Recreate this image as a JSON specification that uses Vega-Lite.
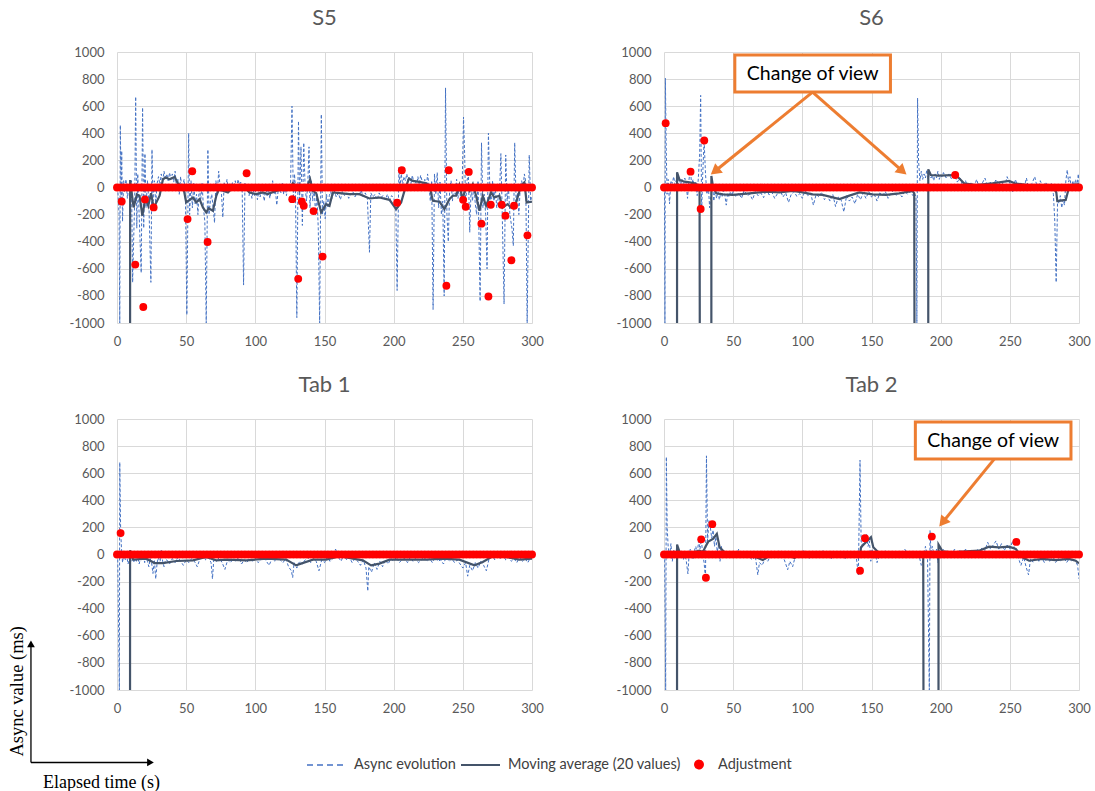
{
"$schema": "https://vega.github.io/schema/vega-lite/v6.json",
"background": "white",
"padding": {"left": 7, "top": 7, "right": 0, "bottom": 0},
"columns": 2,
"spacing": {"row": 26, "column": 72},
"datasets": {
"s5_async": [{"t":0.5,"v":0},{"t":1.5,"v":-200},{"t":2,"v":-1000},{"t":2.4,"v":460},{"t":3,"v":-100},{"t":3.4,"v":270},{"t":4,"v":-250},{"t":4.8,"v":50},{"t":5.5,"v":-30},{"t":6.5,"v":60},{"t":7.5,"v":-80},{"t":8.5,"v":20},{"t":9.5,"v":-150},{"t":10.5,"v":50},{"t":11.3,"v":-700},{"t":12,"v":-400},{"t":12.8,"v":-100},{"t":13.5,"v":670},{"t":14.3,"v":-300},{"t":15,"v":100},{"t":16,"v":-200},{"t":17.5,"v":-630},{"t":18.5,"v":590},{"t":19.3,"v":-300},{"t":20.2,"v":250},{"t":21,"v":-150},{"t":22,"v":50},{"t":23,"v":-100},{"t":24.5,"v":-700},{"t":25.3,"v":280},{"t":26,"v":-100},{"t":27,"v":50},{"t":28,"v":-120},{"t":29,"v":30},{"t":30,"v":80},{"t":31,"v":20},{"t":32,"v":100},{"t":33,"v":40},{"t":34,"v":120},{"t":35,"v":60},{"t":36,"v":100},{"t":37,"v":50},{"t":38,"v":110},{"t":39,"v":60},{"t":40,"v":100},{"t":41,"v":40},{"t":42,"v":120},{"t":43,"v":0},{"t":44,"v":60},{"t":45,"v":-50},{"t":46,"v":80},{"t":47,"v":-20},{"t":48.5,"v":60},{"t":49.5,"v":-100},{"t":50.5,"v":-940},{"t":51.8,"v":400},{"t":52.5,"v":-200},{"t":53.5,"v":50},{"t":54.5,"v":-150},{"t":55.5,"v":30},{"t":56.5,"v":-120},{"t":57.5,"v":-50},{"t":58.5,"v":-200},{"t":59.5,"v":20},{"t":60.5,"v":-100},{"t":61.5,"v":30},{"t":62.5,"v":-150},{"t":63.5,"v":-250},{"t":64.5,"v":-1000},{"t":65.7,"v":280},{"t":66.5,"v":-200},{"t":67.5,"v":-100},{"t":68.5,"v":-50},{"t":69.5,"v":-150},{"t":70.5,"v":-260},{"t":71.5,"v":50},{"t":72.5,"v":-50},{"t":73.5,"v":120},{"t":74.5,"v":10},{"t":75.5,"v":-40},{"t":76.5,"v":-220},{"t":77.5,"v":40},{"t":78.5,"v":-20},{"t":79.5,"v":60},{"t":80.5,"v":-30},{"t":81.5,"v":30},{"t":82.5,"v":-20},{"t":83.5,"v":40},{"t":84.5,"v":0},{"t":85.5,"v":50},{"t":86.5,"v":-10},{"t":87.5,"v":60},{"t":88.5,"v":20},{"t":89.5,"v":40},{"t":90.5,"v":-20},{"t":91.5,"v":-720},{"t":92.5,"v":30},{"t":93.5,"v":-20},{"t":94.5,"v":20},{"t":95.5,"v":-60},{"t":96.5,"v":10},{"t":97.5,"v":-80},{"t":98.5,"v":-20},{"t":99.5,"v":-60},{"t":100.5,"v":0},{"t":101.5,"v":-90},{"t":102.5,"v":-30},{"t":103.5,"v":-70},{"t":104.5,"v":20},{"t":105.5,"v":-40},{"t":106.5,"v":-100},{"t":107.5,"v":20},{"t":108.5,"v":-60},{"t":109.5,"v":-10},{"t":110.5,"v":-80},{"t":111.5,"v":-20},{"t":112.5,"v":50},{"t":113.5,"v":-50},{"t":114.5,"v":-20},{"t":115.5,"v":-130},{"t":116.5,"v":-20},{"t":117.5,"v":20},{"t":118.5,"v":-40},{"t":119.5,"v":30},{"t":120.5,"v":-50},{"t":121.5,"v":10},{"t":122.5,"v":-60},{"t":123.5,"v":20},{"t":124.5,"v":-20},{"t":125.5,"v":40},{"t":126.5,"v":600},{"t":127.5,"v":-100},{"t":128.3,"v":100},{"t":129,"v":0},{"t":130,"v":-960},{"t":131.2,"v":490},{"t":132,"v":-100},{"t":133,"v":300},{"t":134,"v":-280},{"t":135,"v":330},{"t":136,"v":0},{"t":137,"v":-100},{"t":138,"v":50},{"t":138.8,"v":300},{"t":139.5,"v":-150},{"t":140.5,"v":50},{"t":141.5,"v":-100},{"t":142.5,"v":20},{"t":143.5,"v":-200},{"t":144.5,"v":-50},{"t":145.5,"v":-300},{"t":146.5,"v":-1000},{"t":147.7,"v":540},{"t":148.5,"v":-200},{"t":149.5,"v":-100},{"t":150.5,"v":-230},{"t":151.5,"v":-50},{"t":152.5,"v":-150},{"t":153.5,"v":-60},{"t":154.5,"v":-30},{"t":155.5,"v":-80},{"t":157,"v":-20},{"t":158.5,"v":-70},{"t":160,"v":-40},{"t":161.5,"v":-90},{"t":163,"v":-30},{"t":164.5,"v":-60},{"t":166,"v":-40},{"t":167.5,"v":-80},{"t":169,"v":-50},{"t":170.5,"v":-30},{"t":172,"v":-70},{"t":173.5,"v":-40},{"t":175,"v":-60},{"t":176.5,"v":-20},{"t":178,"v":-70},{"t":179.5,"v":-40},{"t":181,"v":-80},{"t":182.5,"v":-478},{"t":183.5,"v":-40},{"t":185,"v":-70},{"t":186.5,"v":-50},{"t":188,"v":-90},{"t":189.5,"v":-40},{"t":191,"v":-70},{"t":192.5,"v":-60},{"t":194,"v":-90},{"t":195.5,"v":-50},{"t":197,"v":-100},{"t":198.5,"v":-60},{"t":200,"v":-80},{"t":201.5,"v":-130},{"t":202.5,"v":-760},{"t":203.8,"v":150},{"t":204.5,"v":0},{"t":205.5,"v":100},{"t":206.5,"v":20},{"t":207.5,"v":80},{"t":208.5,"v":50},{"t":209.5,"v":100},{"t":210.5,"v":40},{"t":211.5,"v":80},{"t":212.5,"v":30},{"t":213.5,"v":90},{"t":214.5,"v":40},{"t":215.5,"v":60},{"t":216.5,"v":10},{"t":217.5,"v":80},{"t":218.5,"v":20},{"t":219.5,"v":90},{"t":220.5,"v":50},{"t":221.5,"v":10},{"t":222.5,"v":60},{"t":223.5,"v":-30},{"t":224.5,"v":100},{"t":225.5,"v":20},{"t":226.5,"v":-100},{"t":227.5,"v":50},{"t":228.5,"v":-900},{"t":229.5,"v":100},{"t":230.5,"v":-50},{"t":231.5,"v":110},{"t":232.5,"v":-150},{"t":233.5,"v":40},{"t":234.5,"v":-200},{"t":235.5,"v":-100},{"t":236.5,"v":-800},{"t":237.5,"v":735},{"t":238.5,"v":-200},{"t":239.5,"v":-400},{"t":240.5,"v":0},{"t":241.5,"v":50},{"t":242.5,"v":-100},{"t":243.5,"v":20},{"t":244.5,"v":-50},{"t":245.5,"v":60},{"t":246.5,"v":-80},{"t":247.5,"v":30},{"t":248.5,"v":-100},{"t":249.5,"v":0},{"t":250.5,"v":520},{"t":251.3,"v":250},{"t":252,"v":-150},{"t":253,"v":50},{"t":254,"v":100},{"t":255,"v":-330},{"t":256,"v":0},{"t":257,"v":-100},{"t":258,"v":20},{"t":259,"v":-120},{"t":260,"v":-200},{"t":261,"v":50},{"t":262.5,"v":-840},{"t":263.5,"v":330},{"t":264.5,"v":-150},{"t":265.5,"v":-50},{"t":266.5,"v":-200},{"t":267.5,"v":-600},{"t":268.5,"v":400},{"t":269.5,"v":0},{"t":270.5,"v":-150},{"t":271.5,"v":50},{"t":272.5,"v":-100},{"t":273.5,"v":0},{"t":274.5,"v":-150},{"t":275.5,"v":-80},{"t":276.5,"v":-50},{"t":277.5,"v":250},{"t":278.5,"v":-200},{"t":279.8,"v":-860},{"t":281,"v":240},{"t":282,"v":-100},{"t":283,"v":0},{"t":284,"v":-200},{"t":285.5,"v":-300},{"t":286.5,"v":-430},{"t":287.5,"v":330},{"t":288.5,"v":-100},{"t":289.5,"v":-40},{"t":290.5,"v":-200},{"t":291.5,"v":0},{"t":292.5,"v":50},{"t":293.5,"v":0},{"t":294.5,"v":100},{"t":295.5,"v":40},{"t":296.5,"v":-1000},{"t":298,"v":240},{"t":299,"v":-100},{"t":300,"v":-60}],
"s5_ma": [{"t":9.4,"v":-3000},{"t":9.5,"v":55},{"t":12,"v":-147},{"t":14.4,"v":-51},{"t":16.3,"v":-60},{"t":18.3,"v":-208},{"t":20.7,"v":-74},{"t":22.6,"v":-135},{"t":24.6,"v":-42},{"t":26.5,"v":-147},{"t":28.4,"v":-110},{"t":30.8,"v":-60},{"t":33.2,"v":61},{"t":35.2,"v":74},{"t":38,"v":61},{"t":41.7,"v":78},{"t":44,"v":32},{"t":48.2,"v":-12},{"t":50,"v":-110},{"t":52.5,"v":-91},{"t":54.9,"v":-74},{"t":57.3,"v":-110},{"t":59.7,"v":-86},{"t":62.1,"v":-147},{"t":64.5,"v":-184},{"t":66.2,"v":-154},{"t":69.3,"v":-172},{"t":71.8,"v":-61},{"t":74.2,"v":0},{"t":76.6,"v":-25},{"t":80.2,"v":-37},{"t":83.8,"v":0},{"t":88.6,"v":12},{"t":92.2,"v":0},{"t":95.8,"v":-37},{"t":100.6,"v":-49},{"t":105.5,"v":-37},{"t":109,"v":-49},{"t":115,"v":-25},{"t":120,"v":-12},{"t":124.7,"v":-12},{"t":127.1,"v":32},{"t":129.5,"v":12},{"t":131.9,"v":-25},{"t":134.4,"v":12},{"t":136.8,"v":-12},{"t":139.6,"v":61},{"t":141.6,"v":-25},{"t":144,"v":-42},{"t":147.6,"v":-184},{"t":151.2,"v":-123},{"t":153.6,"v":-135},{"t":156,"v":-37},{"t":160.8,"v":-42},{"t":168,"v":-49},{"t":175.3,"v":-49},{"t":182.5,"v":-81},{"t":189.7,"v":-74},{"t":197,"v":-91},{"t":201.8,"v":-159},{"t":205.4,"v":-110},{"t":207.8,"v":-25},{"t":211,"v":66},{"t":213.8,"v":49},{"t":218.6,"v":42},{"t":223.4,"v":32},{"t":225.9,"v":12},{"t":228.3,"v":-98},{"t":233.1,"v":-105},{"t":236.7,"v":-159},{"t":240.3,"v":-86},{"t":242.7,"v":-61},{"t":245.1,"v":-61},{"t":247.5,"v":17},{"t":249.9,"v":-86},{"t":252.3,"v":12},{"t":254.7,"v":-25},{"t":257.2,"v":25},{"t":259.6,"v":-61},{"t":262,"v":-172},{"t":264.4,"v":-61},{"t":266.8,"v":-135},{"t":270.4,"v":-37},{"t":272.8,"v":-74},{"t":276.4,"v":-61},{"t":278.8,"v":-147},{"t":282.4,"v":-123},{"t":284.8,"v":-147},{"t":288.5,"v":-110},{"t":292.1,"v":12},{"t":294.5,"v":37},{"t":296.1,"v":-110},{"t":300,"v":-105}],
"s5_adj": [{"t":0,"v":0},{"t":2.5,"v":0},{"t":5,"v":0},{"t":7.5,"v":0},{"t":10,"v":0},{"t":12.5,"v":0},{"t":15,"v":0},{"t":17.5,"v":0},{"t":20,"v":0},{"t":22.5,"v":0},{"t":25,"v":0},{"t":27.5,"v":0},{"t":30,"v":0},{"t":32.5,"v":0},{"t":35,"v":0},{"t":37.5,"v":0},{"t":40,"v":0},{"t":42.5,"v":0},{"t":45,"v":0},{"t":47.5,"v":0},{"t":50,"v":0},{"t":52.5,"v":0},{"t":55,"v":0},{"t":57.5,"v":0},{"t":60,"v":0},{"t":62.5,"v":0},{"t":65,"v":0},{"t":67.5,"v":0},{"t":70,"v":0},{"t":72.5,"v":0},{"t":75,"v":0},{"t":77.5,"v":0},{"t":80,"v":0},{"t":82.5,"v":0},{"t":85,"v":0},{"t":87.5,"v":0},{"t":90,"v":0},{"t":92.5,"v":0},{"t":95,"v":0},{"t":97.5,"v":0},{"t":100,"v":0},{"t":102.5,"v":0},{"t":105,"v":0},{"t":107.5,"v":0},{"t":110,"v":0},{"t":112.5,"v":0},{"t":115,"v":0},{"t":117.5,"v":0},{"t":120,"v":0},{"t":122.5,"v":0},{"t":125,"v":0},{"t":127.5,"v":0},{"t":130,"v":0},{"t":132.5,"v":0},{"t":135,"v":0},{"t":137.5,"v":0},{"t":140,"v":0},{"t":142.5,"v":0},{"t":145,"v":0},{"t":147.5,"v":0},{"t":150,"v":0},{"t":152.5,"v":0},{"t":155,"v":0},{"t":157.5,"v":0},{"t":160,"v":0},{"t":162.5,"v":0},{"t":165,"v":0},{"t":167.5,"v":0},{"t":170,"v":0},{"t":172.5,"v":0},{"t":175,"v":0},{"t":177.5,"v":0},{"t":180,"v":0},{"t":182.5,"v":0},{"t":185,"v":0},{"t":187.5,"v":0},{"t":190,"v":0},{"t":192.5,"v":0},{"t":195,"v":0},{"t":197.5,"v":0},{"t":200,"v":0},{"t":202.5,"v":0},{"t":205,"v":0},{"t":207.5,"v":0},{"t":210,"v":0},{"t":212.5,"v":0},{"t":215,"v":0},{"t":217.5,"v":0},{"t":220,"v":0},{"t":222.5,"v":0},{"t":225,"v":0},{"t":227.5,"v":0},{"t":230,"v":0},{"t":232.5,"v":0},{"t":235,"v":0},{"t":237.5,"v":0},{"t":240,"v":0},{"t":242.5,"v":0},{"t":245,"v":0},{"t":247.5,"v":0},{"t":250,"v":0},{"t":252.5,"v":0},{"t":255,"v":0},{"t":257.5,"v":0},{"t":260,"v":0},{"t":262.5,"v":0},{"t":265,"v":0},{"t":267.5,"v":0},{"t":270,"v":0},{"t":272.5,"v":0},{"t":275,"v":0},{"t":277.5,"v":0},{"t":280,"v":0},{"t":282.5,"v":0},{"t":285,"v":0},{"t":287.5,"v":0},{"t":290,"v":0},{"t":292.5,"v":0},{"t":295,"v":0},{"t":297.5,"v":0},{"t":300,"v":0},{"t":3.4,"v":-103},{"t":13.2,"v":-569},{"t":19,"v":-882},{"t":20.2,"v":-88},{"t":26.5,"v":-147},{"t":51,"v":-233},{"t":54.4,"v":120},{"t":65.5,"v":-402},{"t":93.7,"v":105},{"t":126.7,"v":-86},{"t":131,"v":-674},{"t":133.6,"v":-103},{"t":135,"v":-135},{"t":142.1,"v":-174},{"t":148.6,"v":-510},{"t":202.5,"v":-113},{"t":205.9,"v":127},{"t":238.1,"v":-725},{"t":239.8,"v":127},{"t":250.2,"v":-91},{"t":252.1,"v":-142},{"t":254.3,"v":115},{"t":263.4,"v":-267},{"t":268.5,"v":-804},{"t":270.2,"v":-127},{"t":278.1,"v":-127},{"t":280.8,"v":-208},{"t":285.1,"v":-537},{"t":287,"v":-135},{"t":296.7,"v":-353}],
"s6_async": [{"t":0.3,"v":0},{"t":0.7,"v":-1000},{"t":1,"v":807},{"t":1.6,"v":300},{"t":2.2,"v":-50},{"t":3,"v":60},{"t":4,"v":-120},{"t":5,"v":50},{"t":6,"v":30},{"t":7,"v":80},{"t":8,"v":20},{"t":9,"v":60},{"t":10,"v":-10},{"t":11,"v":70},{"t":12,"v":20},{"t":13,"v":60},{"t":14,"v":10},{"t":15,"v":70},{"t":16,"v":30},{"t":17,"v":-80},{"t":18,"v":50},{"t":19,"v":140},{"t":20,"v":20},{"t":21,"v":60},{"t":22,"v":-20},{"t":23,"v":40},{"t":24,"v":-60},{"t":25,"v":100},{"t":25.8,"v":250},{"t":26.5,"v":680},{"t":27.2,"v":-180},{"t":28,"v":100},{"t":29,"v":350},{"t":30,"v":100},{"t":31,"v":-50},{"t":32,"v":20},{"t":33,"v":-150},{"t":34,"v":-50},{"t":35,"v":30},{"t":36,"v":-100},{"t":37,"v":-20},{"t":38,"v":-80},{"t":39,"v":-30},{"t":40,"v":-90},{"t":41,"v":-40},{"t":42,"v":-70},{"t":43,"v":-20},{"t":44,"v":-60},{"t":45,"v":-130},{"t":46,"v":-40},{"t":47,"v":-70},{"t":48,"v":-30},{"t":49,"v":-60},{"t":50,"v":-30},{"t":52,"v":-70},{"t":54,"v":-40},{"t":56,"v":-80},{"t":58,"v":-20},{"t":60,"v":-60},{"t":62,"v":-50},{"t":64,"v":-90},{"t":66,"v":-30},{"t":68,"v":-60},{"t":70,"v":-40},{"t":72,"v":-75},{"t":74,"v":-10},{"t":76,"v":-55},{"t":78,"v":-35},{"t":80,"v":-80},{"t":82,"v":-45},{"t":84,"v":-20},{"t":86,"v":-70},{"t":88,"v":-40},{"t":90,"v":-110},{"t":92,"v":-50},{"t":94,"v":-30},{"t":96,"v":-65},{"t":98,"v":-45},{"t":100,"v":-80},{"t":102,"v":-20},{"t":104,"v":-60},{"t":106,"v":-40},{"t":108,"v":-130},{"t":110,"v":-50},{"t":112,"v":-70},{"t":114,"v":-35},{"t":116,"v":-90},{"t":118,"v":-60},{"t":120,"v":-100},{"t":122,"v":-50},{"t":124,"v":-140},{"t":126,"v":-70},{"t":128,"v":-90},{"t":130,"v":-180},{"t":132,"v":-60},{"t":134,"v":-100},{"t":136,"v":-70},{"t":138,"v":-120},{"t":140,"v":-50},{"t":142,"v":-90},{"t":144,"v":-40},{"t":146,"v":-80},{"t":148,"v":-30},{"t":150,"v":-70},{"t":152,"v":-50},{"t":154,"v":-100},{"t":156,"v":-40},{"t":158,"v":-60},{"t":160,"v":-30},{"t":162,"v":-80},{"t":164,"v":-45},{"t":166,"v":-20},{"t":168,"v":-60},{"t":170,"v":-40},{"t":172,"v":-70},{"t":174,"v":-25},{"t":176,"v":-50},{"t":178,"v":-30},{"t":180,"v":-60},{"t":181,"v":-40},{"t":182.2,"v":-70},{"t":182.8,"v":-1000},{"t":183.3,"v":660},{"t":184,"v":200},{"t":185,"v":50},{"t":186,"v":120},{"t":187,"v":60},{"t":188,"v":100},{"t":189,"v":70},{"t":190,"v":130},{"t":191,"v":60},{"t":192,"v":110},{"t":193,"v":70},{"t":194,"v":90},{"t":195,"v":50},{"t":196,"v":100},{"t":197,"v":70},{"t":198,"v":120},{"t":199,"v":60},{"t":200,"v":90},{"t":201,"v":80},{"t":202,"v":110},{"t":204,"v":70},{"t":206,"v":100},{"t":208,"v":60},{"t":210,"v":90},{"t":212,"v":40},{"t":214,"v":70},{"t":216,"v":10},{"t":218,"v":50},{"t":220,"v":-20},{"t":222,"v":40},{"t":224,"v":0},{"t":226,"v":60},{"t":228,"v":-10},{"t":230,"v":30},{"t":232,"v":70},{"t":234,"v":0},{"t":236,"v":40},{"t":238,"v":10},{"t":240,"v":60},{"t":242,"v":20},{"t":244,"v":50},{"t":246,"v":-10},{"t":248,"v":80},{"t":250,"v":30},{"t":252,"v":-30},{"t":254,"v":60},{"t":256,"v":0},{"t":258,"v":40},{"t":260,"v":-20},{"t":262,"v":70},{"t":264,"v":-30},{"t":266,"v":30},{"t":268,"v":80},{"t":270,"v":-10},{"t":272,"v":50},{"t":274,"v":0},{"t":276,"v":40},{"t":278,"v":-20},{"t":280,"v":30},{"t":281.5,"v":-50},{"t":282.5,"v":-250},{"t":283.5,"v":-700},{"t":284.5,"v":-100},{"t":285.5,"v":-120},{"t":286.5,"v":-60},{"t":287.5,"v":-150},{"t":288.5,"v":-90},{"t":289.5,"v":-130},{"t":290.5,"v":50},{"t":291.5,"v":130},{"t":292.5,"v":40},{"t":293.5,"v":80},{"t":294.5,"v":-20},{"t":295.5,"v":50},{"t":296.5,"v":0},{"t":297.5,"v":60},{"t":298.5,"v":10},{"t":299.5,"v":100},{"t":300,"v":30}],
"s6_ma": [{"t":9.4,"v":-3000},{"t":9.45,"v":112},{"t":11.3,"v":55},{"t":14.9,"v":43},{"t":18.5,"v":38},{"t":22.1,"v":31},{"t":24.5,"v":18},{"t":25.7,"v":-11},{"t":26.2,"v":-3000},{"t":34.2,"v":-3000},{"t":34.25,"v":85},{"t":35.4,"v":6},{"t":37.8,"v":-43},{"t":42.6,"v":-51},{"t":49.8,"v":-55},{"t":61.8,"v":-43},{"t":73.9,"v":-31},{"t":83.5,"v":-36},{"t":93.1,"v":-26},{"t":100.3,"v":-36},{"t":107.5,"v":-51},{"t":114.7,"v":-55},{"t":122,"v":-73},{"t":126.8,"v":-85},{"t":134,"v":-60},{"t":141.2,"v":-36},{"t":150.8,"v":-51},{"t":160.5,"v":-55},{"t":170,"v":-43},{"t":179.7,"v":-26},{"t":180.9,"v":-43},{"t":181.4,"v":-3000},{"t":191,"v":-3000},{"t":191.05,"v":134},{"t":192.9,"v":92},{"t":198.9,"v":88},{"t":208.5,"v":92},{"t":212.2,"v":80},{"t":216.9,"v":31},{"t":225.4,"v":18},{"t":237.4,"v":31},{"t":249.5,"v":48},{"t":254.3,"v":28},{"t":263.9,"v":18},{"t":273.5,"v":18},{"t":280.7,"v":14},{"t":283.6,"v":-36},{"t":284.3,"v":-100},{"t":290.4,"v":-92},{"t":292.3,"v":-18},{"t":295.2,"v":18},{"t":300,"v":26}],
"s6_adj": [{"t":0,"v":0},{"t":2.5,"v":0},{"t":5,"v":0},{"t":7.5,"v":0},{"t":10,"v":0},{"t":12.5,"v":0},{"t":15,"v":0},{"t":17.5,"v":0},{"t":20,"v":0},{"t":22.5,"v":0},{"t":25,"v":0},{"t":27.5,"v":0},{"t":30,"v":0},{"t":32.5,"v":0},{"t":35,"v":0},{"t":37.5,"v":0},{"t":40,"v":0},{"t":42.5,"v":0},{"t":45,"v":0},{"t":47.5,"v":0},{"t":50,"v":0},{"t":52.5,"v":0},{"t":55,"v":0},{"t":57.5,"v":0},{"t":60,"v":0},{"t":62.5,"v":0},{"t":65,"v":0},{"t":67.5,"v":0},{"t":70,"v":0},{"t":72.5,"v":0},{"t":75,"v":0},{"t":77.5,"v":0},{"t":80,"v":0},{"t":82.5,"v":0},{"t":85,"v":0},{"t":87.5,"v":0},{"t":90,"v":0},{"t":92.5,"v":0},{"t":95,"v":0},{"t":97.5,"v":0},{"t":100,"v":0},{"t":102.5,"v":0},{"t":105,"v":0},{"t":107.5,"v":0},{"t":110,"v":0},{"t":112.5,"v":0},{"t":115,"v":0},{"t":117.5,"v":0},{"t":120,"v":0},{"t":122.5,"v":0},{"t":125,"v":0},{"t":127.5,"v":0},{"t":130,"v":0},{"t":132.5,"v":0},{"t":135,"v":0},{"t":137.5,"v":0},{"t":140,"v":0},{"t":142.5,"v":0},{"t":145,"v":0},{"t":147.5,"v":0},{"t":150,"v":0},{"t":152.5,"v":0},{"t":155,"v":0},{"t":157.5,"v":0},{"t":160,"v":0},{"t":162.5,"v":0},{"t":165,"v":0},{"t":167.5,"v":0},{"t":170,"v":0},{"t":172.5,"v":0},{"t":175,"v":0},{"t":177.5,"v":0},{"t":180,"v":0},{"t":182.5,"v":0},{"t":185,"v":0},{"t":187.5,"v":0},{"t":190,"v":0},{"t":192.5,"v":0},{"t":195,"v":0},{"t":197.5,"v":0},{"t":200,"v":0},{"t":202.5,"v":0},{"t":205,"v":0},{"t":207.5,"v":0},{"t":210,"v":0},{"t":212.5,"v":0},{"t":215,"v":0},{"t":217.5,"v":0},{"t":220,"v":0},{"t":222.5,"v":0},{"t":225,"v":0},{"t":227.5,"v":0},{"t":230,"v":0},{"t":232.5,"v":0},{"t":235,"v":0},{"t":237.5,"v":0},{"t":240,"v":0},{"t":242.5,"v":0},{"t":245,"v":0},{"t":247.5,"v":0},{"t":250,"v":0},{"t":252.5,"v":0},{"t":255,"v":0},{"t":257.5,"v":0},{"t":260,"v":0},{"t":262.5,"v":0},{"t":265,"v":0},{"t":267.5,"v":0},{"t":270,"v":0},{"t":272.5,"v":0},{"t":275,"v":0},{"t":277.5,"v":0},{"t":280,"v":0},{"t":282.5,"v":0},{"t":285,"v":0},{"t":287.5,"v":0},{"t":290,"v":0},{"t":292.5,"v":0},{"t":295,"v":0},{"t":297.5,"v":0},{"t":300,"v":0},{"t":1.2,"v":475},{"t":19.2,"v":117},{"t":26.5,"v":-159},{"t":29.1,"v":347},{"t":210.5,"v":92}],
"s6_box": [{"t":51.2,"t2":163.7,"v":978,"v2":704}],
"s6_label": [{"t":107.5,"v":841,"label":"Change of view"}],
"s6_arrows": [{"t":107.4,"v":704,"t2":36.8,"v2":120},{"t":107.4,"v":704,"t2":172.4,"v2":121}],
"s6_heads": [{"t":36.8,"v":120,"dir":"left"},{"t":172.4,"v":121,"dir":"right"}],
"t1_async": [{"t":0.5,"v":0},{"t":1.7,"v":-1000},{"t":2,"v":680},{"t":2.6,"v":200},{"t":3.2,"v":50},{"t":4,"v":-60},{"t":5,"v":20},{"t":6,"v":-40},{"t":7,"v":-10},{"t":8,"v":-70},{"t":9,"v":-20},{"t":10,"v":-50},{"t":11,"v":10},{"t":12,"v":-60},{"t":13,"v":-30},{"t":14,"v":-50},{"t":15,"v":-10},{"t":16,"v":-70},{"t":17,"v":-30},{"t":18,"v":-40},{"t":19,"v":0},{"t":20,"v":-60},{"t":21,"v":-20},{"t":22,"v":-50},{"t":23,"v":-90},{"t":24,"v":-30},{"t":25,"v":-60},{"t":26,"v":-140},{"t":27,"v":-40},{"t":28,"v":-180},{"t":29,"v":-60},{"t":30,"v":-20},{"t":31,"v":-70},{"t":32,"v":30},{"t":33,"v":-50},{"t":34,"v":-90},{"t":35,"v":-40},{"t":36,"v":-40},{"t":38,"v":-70},{"t":40,"v":-30},{"t":42,"v":-60},{"t":44,"v":-20},{"t":46,"v":-50},{"t":48,"v":-80},{"t":50,"v":-40},{"t":52,"v":-60},{"t":54,"v":-30},{"t":56,"v":-50},{"t":58,"v":-90},{"t":60,"v":-30},{"t":62,"v":20},{"t":64,"v":-40},{"t":66,"v":-20},{"t":68,"v":-60},{"t":69,"v":-180},{"t":70,"v":-30},{"t":72,"v":-50},{"t":74,"v":-20},{"t":76,"v":-60},{"t":78,"v":-110},{"t":80,"v":-40},{"t":82,"v":-60},{"t":84,"v":-30},{"t":86,"v":-50},{"t":88,"v":-20},{"t":90,"v":-70},{"t":92,"v":-40},{"t":94,"v":-60},{"t":96,"v":-10},{"t":98,"v":-50},{"t":100,"v":-30},{"t":102,"v":-60},{"t":104,"v":-40},{"t":106,"v":-20},{"t":108,"v":-50},{"t":110,"v":-80},{"t":112,"v":-30},{"t":114,"v":-50},{"t":116,"v":10},{"t":118,"v":-40},{"t":120,"v":-60},{"t":122,"v":-30},{"t":124,"v":-90},{"t":126,"v":-120},{"t":127,"v":-170},{"t":128,"v":-60},{"t":130,"v":-100},{"t":132,"v":-50},{"t":134,"v":-70},{"t":136,"v":-40},{"t":138,"v":-20},{"t":140,"v":-60},{"t":142,"v":-30},{"t":144,"v":-50},{"t":146,"v":-120},{"t":148,"v":-40},{"t":150,"v":-60},{"t":152,"v":-20},{"t":154,"v":-50},{"t":156,"v":-30},{"t":158,"v":40},{"t":160,"v":-20},{"t":162,"v":-50},{"t":164,"v":0},{"t":166,"v":-40},{"t":168,"v":-20},{"t":170,"v":-60},{"t":172,"v":-30},{"t":174,"v":-50},{"t":176,"v":-80},{"t":178,"v":-40},{"t":180,"v":-100},{"t":181.3,"v":-270},{"t":182,"v":-90},{"t":184,"v":-130},{"t":186,"v":-60},{"t":188,"v":-110},{"t":190,"v":-50},{"t":192,"v":-90},{"t":194,"v":-40},{"t":196,"v":-70},{"t":198,"v":-30},{"t":200,"v":-50},{"t":202,"v":-20},{"t":204,"v":-60},{"t":206,"v":-40},{"t":208,"v":-30},{"t":210,"v":-60},{"t":212,"v":-20},{"t":214,"v":-50},{"t":216,"v":-30},{"t":218,"v":-60},{"t":220,"v":-40},{"t":222,"v":-20},{"t":224,"v":-50},{"t":226,"v":-30},{"t":228,"v":-60},{"t":230,"v":-20},{"t":232,"v":-50},{"t":234,"v":-40},{"t":236,"v":-70},{"t":238,"v":-20},{"t":240,"v":-50},{"t":242,"v":-30},{"t":244,"v":-60},{"t":246,"v":-40},{"t":248,"v":-70},{"t":250,"v":-100},{"t":252,"v":-60},{"t":253.5,"v":-160},{"t":255,"v":-80},{"t":257,"v":-120},{"t":259,"v":-60},{"t":261,"v":-100},{"t":263,"v":-50},{"t":265,"v":-80},{"t":267,"v":-120},{"t":269,"v":-30},{"t":271,"v":10},{"t":273,"v":-40},{"t":275,"v":-10},{"t":277,"v":-30},{"t":279,"v":0},{"t":281,"v":-40},{"t":283,"v":-20},{"t":285,"v":-50},{"t":287,"v":-30},{"t":289,"v":-60},{"t":291,"v":-20},{"t":293,"v":-50},{"t":295,"v":-30},{"t":297,"v":-60},{"t":299,"v":-20},{"t":300,"v":-40}],
"t1_ma": [{"t":9.4,"v":-3000},{"t":9.45,"v":31},{"t":11.6,"v":-38},{"t":21.2,"v":-31},{"t":27.2,"v":-63},{"t":33.2,"v":-63},{"t":42.9,"v":-48},{"t":54.9,"v":-43},{"t":64.5,"v":-18},{"t":71.8,"v":-43},{"t":79,"v":-38},{"t":93.4,"v":-43},{"t":107.9,"v":-31},{"t":122.3,"v":-38},{"t":129.5,"v":-80},{"t":141.6,"v":-38},{"t":151.2,"v":-38},{"t":161,"v":-13},{"t":170.5,"v":-31},{"t":177.7,"v":-43},{"t":183.7,"v":-80},{"t":189.7,"v":-67},{"t":197,"v":-38},{"t":211.4,"v":-38},{"t":223.4,"v":-38},{"t":235.5,"v":-31},{"t":247.5,"v":-38},{"t":258.4,"v":-80},{"t":264.4,"v":-55},{"t":271.6,"v":-13},{"t":281.2,"v":-18},{"t":290.9,"v":-38},{"t":300,"v":-31}],
"t1_adj": [{"t":0,"v":0},{"t":2.5,"v":0},{"t":5,"v":0},{"t":7.5,"v":0},{"t":10,"v":0},{"t":12.5,"v":0},{"t":15,"v":0},{"t":17.5,"v":0},{"t":20,"v":0},{"t":22.5,"v":0},{"t":25,"v":0},{"t":27.5,"v":0},{"t":30,"v":0},{"t":32.5,"v":0},{"t":35,"v":0},{"t":37.5,"v":0},{"t":40,"v":0},{"t":42.5,"v":0},{"t":45,"v":0},{"t":47.5,"v":0},{"t":50,"v":0},{"t":52.5,"v":0},{"t":55,"v":0},{"t":57.5,"v":0},{"t":60,"v":0},{"t":62.5,"v":0},{"t":65,"v":0},{"t":67.5,"v":0},{"t":70,"v":0},{"t":72.5,"v":0},{"t":75,"v":0},{"t":77.5,"v":0},{"t":80,"v":0},{"t":82.5,"v":0},{"t":85,"v":0},{"t":87.5,"v":0},{"t":90,"v":0},{"t":92.5,"v":0},{"t":95,"v":0},{"t":97.5,"v":0},{"t":100,"v":0},{"t":102.5,"v":0},{"t":105,"v":0},{"t":107.5,"v":0},{"t":110,"v":0},{"t":112.5,"v":0},{"t":115,"v":0},{"t":117.5,"v":0},{"t":120,"v":0},{"t":122.5,"v":0},{"t":125,"v":0},{"t":127.5,"v":0},{"t":130,"v":0},{"t":132.5,"v":0},{"t":135,"v":0},{"t":137.5,"v":0},{"t":140,"v":0},{"t":142.5,"v":0},{"t":145,"v":0},{"t":147.5,"v":0},{"t":150,"v":0},{"t":152.5,"v":0},{"t":155,"v":0},{"t":157.5,"v":0},{"t":160,"v":0},{"t":162.5,"v":0},{"t":165,"v":0},{"t":167.5,"v":0},{"t":170,"v":0},{"t":172.5,"v":0},{"t":175,"v":0},{"t":177.5,"v":0},{"t":180,"v":0},{"t":182.5,"v":0},{"t":185,"v":0},{"t":187.5,"v":0},{"t":190,"v":0},{"t":192.5,"v":0},{"t":195,"v":0},{"t":197.5,"v":0},{"t":200,"v":0},{"t":202.5,"v":0},{"t":205,"v":0},{"t":207.5,"v":0},{"t":210,"v":0},{"t":212.5,"v":0},{"t":215,"v":0},{"t":217.5,"v":0},{"t":220,"v":0},{"t":222.5,"v":0},{"t":225,"v":0},{"t":227.5,"v":0},{"t":230,"v":0},{"t":232.5,"v":0},{"t":235,"v":0},{"t":237.5,"v":0},{"t":240,"v":0},{"t":242.5,"v":0},{"t":245,"v":0},{"t":247.5,"v":0},{"t":250,"v":0},{"t":252.5,"v":0},{"t":255,"v":0},{"t":257.5,"v":0},{"t":260,"v":0},{"t":262.5,"v":0},{"t":265,"v":0},{"t":267.5,"v":0},{"t":270,"v":0},{"t":272.5,"v":0},{"t":275,"v":0},{"t":277.5,"v":0},{"t":280,"v":0},{"t":282.5,"v":0},{"t":285,"v":0},{"t":287.5,"v":0},{"t":290,"v":0},{"t":292.5,"v":0},{"t":295,"v":0},{"t":297.5,"v":0},{"t":300,"v":0},{"t":2.6,"v":158}],
"t1_rules": [{"t":-62.2,"v":-1535,"t2":-62.2,"v2":-650},{"t":-62.2,"v":-1535,"t2":24,"v2":-1535}],
"t1_heads": [{"t":-62.2,"v":-660,"dir":"up"},{"t":24.2,"v":-1535,"dir":"right"}],
"t1_ylabel": [{"t":-72.3,"v":-1010,"label":"Async value (ms)"}],
"t1_xlabel": [{"t":-11.2,"v":-1683,"label":"Elapsed time (s)"}],
"t2_async": [{"t":0.5,"v":0},{"t":1.2,"v":-1000},{"t":1.7,"v":720},{"t":2.3,"v":200},{"t":3,"v":60},{"t":4,"v":-20},{"t":5,"v":80},{"t":6,"v":-50},{"t":7,"v":30},{"t":8,"v":-20},{"t":9,"v":40},{"t":10,"v":0},{"t":11,"v":30},{"t":12,"v":-30},{"t":13,"v":20},{"t":14,"v":-40},{"t":15,"v":10},{"t":16,"v":-40},{"t":17.3,"v":-143},{"t":18,"v":-20},{"t":19,"v":40},{"t":20,"v":10},{"t":21,"v":-30},{"t":22,"v":30},{"t":23,"v":60},{"t":24,"v":0},{"t":25,"v":100},{"t":26,"v":40},{"t":27,"v":110},{"t":28,"v":0},{"t":29,"v":-60},{"t":30,"v":-180},{"t":30.7,"v":728},{"t":31.5,"v":100},{"t":32.5,"v":250},{"t":33.5,"v":200},{"t":34.5,"v":120},{"t":35.5,"v":180},{"t":36.5,"v":60},{"t":37.5,"v":130},{"t":38.5,"v":20},{"t":39.5,"v":80},{"t":40.5,"v":-50},{"t":41.5,"v":60},{"t":42.5,"v":-20},{"t":43.5,"v":30},{"t":44.5,"v":0},{"t":46,"v":20},{"t":48,"v":-20},{"t":50,"v":30},{"t":52,"v":-10},{"t":54,"v":40},{"t":56,"v":0},{"t":58,"v":-30},{"t":60,"v":10},{"t":62,"v":-20},{"t":64,"v":-40},{"t":66,"v":-10},{"t":67.8,"v":-150},{"t":69,"v":-60},{"t":71,"v":-80},{"t":73,"v":-30},{"t":75,"v":-50},{"t":77,"v":-10},{"t":79,"v":20},{"t":81,"v":-20},{"t":83,"v":30},{"t":85,"v":0},{"t":87,"v":-40},{"t":89.4,"v":-112},{"t":91,"v":-50},{"t":93,"v":-90},{"t":95,"v":-10},{"t":97,"v":20},{"t":99,"v":-20},{"t":101,"v":30},{"t":103,"v":0},{"t":105,"v":-30},{"t":107,"v":10},{"t":109,"v":-20},{"t":111,"v":20},{"t":113,"v":-10},{"t":115,"v":30},{"t":117,"v":-20},{"t":119,"v":10},{"t":121,"v":-30},{"t":123,"v":0},{"t":125,"v":20},{"t":127,"v":-20},{"t":129,"v":10},{"t":131,"v":-30},{"t":133,"v":20},{"t":135,"v":-10},{"t":137,"v":10},{"t":139,"v":-20},{"t":140.5,"v":-150},{"t":141.7,"v":696},{"t":142.5,"v":100},{"t":143.5,"v":50},{"t":144.5,"v":120},{"t":145.5,"v":80},{"t":146.5,"v":150},{"t":147.5,"v":60},{"t":148.5,"v":100},{"t":149.5,"v":-50},{"t":150.5,"v":40},{"t":151.5,"v":-30},{"t":152.5,"v":20},{"t":154,"v":-60},{"t":156,"v":10},{"t":158,"v":-20},{"t":160,"v":30},{"t":162,"v":0},{"t":164,"v":-20},{"t":166,"v":20},{"t":168,"v":-10},{"t":170,"v":30},{"t":172,"v":0},{"t":174,"v":40},{"t":176,"v":10},{"t":178,"v":-20},{"t":180,"v":20},{"t":182,"v":-10},{"t":184,"v":10},{"t":186,"v":-80},{"t":187.5,"v":-40},{"t":189,"v":60},{"t":190.5,"v":-20},{"t":191.8,"v":-1000},{"t":192.3,"v":177},{"t":193,"v":20},{"t":194,"v":60},{"t":195,"v":0},{"t":196,"v":-20},{"t":197,"v":40},{"t":198,"v":-60},{"t":199,"v":30},{"t":200,"v":-20},{"t":202,"v":40},{"t":204,"v":0},{"t":206,"v":30},{"t":208,"v":-10},{"t":210,"v":40},{"t":212,"v":10},{"t":214,"v":30},{"t":216,"v":0},{"t":218,"v":40},{"t":220,"v":10},{"t":222,"v":30},{"t":224,"v":-10},{"t":226,"v":40},{"t":228,"v":20},{"t":230,"v":50},{"t":232,"v":30},{"t":234,"v":90},{"t":236,"v":40},{"t":238,"v":70},{"t":240,"v":100},{"t":242,"v":40},{"t":244,"v":80},{"t":246,"v":30},{"t":248,"v":70},{"t":250,"v":40},{"t":252,"v":100},{"t":254,"v":20},{"t":256,"v":-20},{"t":258,"v":-80},{"t":260,"v":-20},{"t":262,"v":-100},{"t":263.5,"v":-150},{"t":265,"v":-30},{"t":267,"v":-60},{"t":269,"v":-10},{"t":271,"v":-50},{"t":273,"v":-20},{"t":275,"v":-60},{"t":277,"v":-30},{"t":279,"v":-50},{"t":281,"v":-10},{"t":283,"v":-60},{"t":285,"v":-30},{"t":287,"v":-50},{"t":289,"v":-20},{"t":291,"v":-60},{"t":293,"v":-30},{"t":295,"v":-50},{"t":297,"v":-40},{"t":299,"v":-80},{"t":300,"v":-180}],
"t2_ma": [{"t":9.4,"v":-3000},{"t":9.45,"v":73},{"t":11.3,"v":16},{"t":16.1,"v":9},{"t":20.9,"v":16},{"t":25.7,"v":28},{"t":28.1,"v":16},{"t":30.1,"v":60},{"t":32,"v":95},{"t":35.4,"v":115},{"t":38.2,"v":152},{"t":40.2,"v":53},{"t":43.8,"v":16},{"t":49.8,"v":9},{"t":59.4,"v":0},{"t":66.6,"v":-21},{"t":71.4,"v":-41},{"t":76.3,"v":-9},{"t":88.3,"v":4},{"t":94.3,"v":-26},{"t":97.9,"v":0},{"t":109.9,"v":-9},{"t":122,"v":-16},{"t":136.4,"v":-9},{"t":141.7,"v":-16},{"t":142.4,"v":53},{"t":149.6,"v":127},{"t":151.3,"v":53},{"t":155.6,"v":9},{"t":165.3,"v":0},{"t":174.9,"v":16},{"t":184.5,"v":0},{"t":187.4,"v":-16},{"t":187.9,"v":-3000},{"t":198.4,"v":-3000},{"t":198.45,"v":73},{"t":201.3,"v":23},{"t":208.6,"v":16},{"t":218.2,"v":23},{"t":227.8,"v":28},{"t":235,"v":58},{"t":242.2,"v":53},{"t":249.5,"v":58},{"t":254.3,"v":41},{"t":259.1,"v":-21},{"t":263.9,"v":-46},{"t":273.5,"v":-33},{"t":283.1,"v":-41},{"t":292.8,"v":-33},{"t":297.6,"v":-46},{"t":300,"v":-65}],
"t2_adj": [{"t":0,"v":0},{"t":2.5,"v":0},{"t":5,"v":0},{"t":7.5,"v":0},{"t":10,"v":0},{"t":12.5,"v":0},{"t":15,"v":0},{"t":17.5,"v":0},{"t":20,"v":0},{"t":22.5,"v":0},{"t":25,"v":0},{"t":27.5,"v":0},{"t":30,"v":0},{"t":32.5,"v":0},{"t":35,"v":0},{"t":37.5,"v":0},{"t":40,"v":0},{"t":42.5,"v":0},{"t":45,"v":0},{"t":47.5,"v":0},{"t":50,"v":0},{"t":52.5,"v":0},{"t":55,"v":0},{"t":57.5,"v":0},{"t":60,"v":0},{"t":62.5,"v":0},{"t":65,"v":0},{"t":67.5,"v":0},{"t":70,"v":0},{"t":72.5,"v":0},{"t":75,"v":0},{"t":77.5,"v":0},{"t":80,"v":0},{"t":82.5,"v":0},{"t":85,"v":0},{"t":87.5,"v":0},{"t":90,"v":0},{"t":92.5,"v":0},{"t":95,"v":0},{"t":97.5,"v":0},{"t":100,"v":0},{"t":102.5,"v":0},{"t":105,"v":0},{"t":107.5,"v":0},{"t":110,"v":0},{"t":112.5,"v":0},{"t":115,"v":0},{"t":117.5,"v":0},{"t":120,"v":0},{"t":122.5,"v":0},{"t":125,"v":0},{"t":127.5,"v":0},{"t":130,"v":0},{"t":132.5,"v":0},{"t":135,"v":0},{"t":137.5,"v":0},{"t":140,"v":0},{"t":142.5,"v":0},{"t":145,"v":0},{"t":147.5,"v":0},{"t":150,"v":0},{"t":152.5,"v":0},{"t":155,"v":0},{"t":157.5,"v":0},{"t":160,"v":0},{"t":162.5,"v":0},{"t":165,"v":0},{"t":167.5,"v":0},{"t":170,"v":0},{"t":172.5,"v":0},{"t":175,"v":0},{"t":177.5,"v":0},{"t":180,"v":0},{"t":182.5,"v":0},{"t":185,"v":0},{"t":187.5,"v":0},{"t":190,"v":0},{"t":192.5,"v":0},{"t":195,"v":0},{"t":197.5,"v":0},{"t":200,"v":0},{"t":202.5,"v":0},{"t":205,"v":0},{"t":207.5,"v":0},{"t":210,"v":0},{"t":212.5,"v":0},{"t":215,"v":0},{"t":217.5,"v":0},{"t":220,"v":0},{"t":222.5,"v":0},{"t":225,"v":0},{"t":227.5,"v":0},{"t":230,"v":0},{"t":232.5,"v":0},{"t":235,"v":0},{"t":237.5,"v":0},{"t":240,"v":0},{"t":242.5,"v":0},{"t":245,"v":0},{"t":247.5,"v":0},{"t":250,"v":0},{"t":252.5,"v":0},{"t":255,"v":0},{"t":257.5,"v":0},{"t":260,"v":0},{"t":262.5,"v":0},{"t":265,"v":0},{"t":267.5,"v":0},{"t":270,"v":0},{"t":272.5,"v":0},{"t":275,"v":0},{"t":277.5,"v":0},{"t":280,"v":0},{"t":282.5,"v":0},{"t":285,"v":0},{"t":287.5,"v":0},{"t":290,"v":0},{"t":292.5,"v":0},{"t":295,"v":0},{"t":297.5,"v":0},{"t":300,"v":0},{"t":26.9,"v":112},{"t":30.3,"v":-172},{"t":34.9,"v":224},{"t":141.7,"v":-120},{"t":145.3,"v":120},{"t":193.6,"v":132},{"t":254.7,"v":93}],
"t2_box": [{"t":181.7,"t2":294.2,"v":978,"v2":704}],
"t2_label": [{"t":238,"v":841,"label":"Change of view"}],
"t2_arrows": [{"t":238.7,"v":704,"t2":201.4,"v2":237}],
"t2_heads": [{"t":201.4,"v":237}]
},
"concat": [
{
"title": "S5", "width": 415, "height": 271,
"encoding": {
"x": {"field": "t", "type": "quantitative", "scale": {"domain": [0, 300], "nice": false, "zero": false}, "axis": {"values": [0, 50, 100, 150, 200, 250, 300]}},
"y": {"field": "v", "type": "quantitative", "scale": {"domain": [-1000, 1000], "nice": false, "zero": false}, "axis": {"values": [-1000, -800, -600, -400, -200, 0, 200, 400, 600, 800, 1000], "labelExpr": "'' + datum.value"}}
},
"layer": [
{"data": {"name": "s5_async"}, "mark": {"type": "line", "strokeWidth": 1, "strokeDash": [3, 2], "clip": true},
 "encoding": {"color": {"datum": "Async evolution", "type": "nominal",
  "scale": {"domain": ["Async evolution", "Moving average (20 values)", "Adjustment"], "range": ["#4472C4", "#44546A", "#FF0000"]},
  "legend": {"orient": "none", "legendX": 190, "legendY": 705, "direction": "horizontal", "columns": 3, "title": null,
   "symbolSize": 1521, "labelFontSize": 14.5, "labelColor": "#404040", "labelFont": "Lato", "labelLimit": 400, "columnPadding": 1, "labelOffset": 8,
   "encode": {
    "symbols": {"update": {
     "shape": {"signal": "datum.value === 'Adjustment' ? 'circle' : 'stroke'"},
     "size": {"signal": "datum.value === 'Adjustment' ? 70 : 1521"},
     "fill": {"signal": "datum.value === 'Adjustment' ? '#FF0000' : 'transparent'"},
     "stroke": {"signal": "datum.value === 'Adjustment' ? 'transparent' : (datum.value === 'Async evolution' ? '#8FAADC' : '#44546A')"},
     "strokeWidth": {"signal": "datum.value === 'Moving average (20 values)' ? 2 : 1.5"},
     "strokeDash": {"signal": "datum.value === 'Async evolution' ? [6, 4] : [1, 0]"},
     "opacity": {"value": 1},
     "x": {"signal": "datum.value === 'Adjustment' ? 17 : 19.5"}
    }},
    "labels": {"update": {"x": {"signal": "datum.value === 'Adjustment' ? 36 : 47"}}}
   }
  }}}},
{"data": {"name": "s5_ma"}, "mark": {"type": "line", "strokeWidth": 2.2, "clip": true},
 "encoding": {"color": {"datum": "Moving average (20 values)", "type": "nominal", "scale": {"domain": ["Async evolution", "Moving average (20 values)", "Adjustment"], "range": ["#4472C4", "#44546A", "#FF0000"]}}}},
{"data": {"name": "s5_adj"}, "mark": {"type": "circle", "size": 62, "opacity": 1},
 "encoding": {"color": {"datum": "Adjustment", "type": "nominal", "scale": {"domain": ["Async evolution", "Moving average (20 values)", "Adjustment"], "range": ["#4472C4", "#44546A", "#FF0000"]}}}}
]
},
{
"title": "S6", "width": 415, "height": 271,
"encoding": {
"x": {"field": "t", "type": "quantitative", "scale": {"domain": [0, 300], "nice": false, "zero": false}, "axis": {"values": [0, 50, 100, 150, 200, 250, 300]}},
"y": {"field": "v", "type": "quantitative", "scale": {"domain": [-1000, 1000], "nice": false, "zero": false}, "axis": {"values": [-1000, -800, -600, -400, -200, 0, 200, 400, 600, 800, 1000], "labelExpr": "'' + datum.value"}}
},
"layer": [
{"data": {"name": "s6_async"}, "mark": {"type": "line", "strokeWidth": 1, "strokeDash": [3, 2], "clip": true},
 "encoding": {"color": {"datum": "Async evolution", "type": "nominal", "scale": {"domain": ["Async evolution", "Moving average (20 values)", "Adjustment"], "range": ["#4472C4", "#44546A", "#FF0000"]}}}},
{"data": {"name": "s6_ma"}, "mark": {"type": "line", "strokeWidth": 2.2, "clip": true},
 "encoding": {"color": {"datum": "Moving average (20 values)", "type": "nominal", "scale": {"domain": ["Async evolution", "Moving average (20 values)", "Adjustment"], "range": ["#4472C4", "#44546A", "#FF0000"]}}}},
{"data": {"name": "s6_adj"}, "mark": {"type": "circle", "size": 62, "opacity": 1},
 "encoding": {"color": {"datum": "Adjustment", "type": "nominal", "scale": {"domain": ["Async evolution", "Moving average (20 values)", "Adjustment"], "range": ["#4472C4", "#44546A", "#FF0000"]}}}},
{"data": {"name": "s6_arrows"}, "mark": {"type": "rule", "color": "#ED7D31", "strokeWidth": 3},
 "encoding": {"x2": {"field": "t2"}, "y2": {"field": "v2"}}},
{"data": {"name": "s6_heads"}, "mark": {"type": "point", "shape": "triangle-up", "filled": true, "color": "#ED7D31", "size": 150, "opacity": 1},
 "encoding": {"angle": {"condition": {"test": "datum.dir === 'left'", "value": 231}, "value": 131}}},
{"data": {"name": "s6_box"}, "mark": {"type": "rect", "fill": "white", "stroke": "#ED7D31", "strokeWidth": 3},
 "encoding": {"x2": {"field": "t2"}, "y2": {"field": "v2"}}},
{"data": {"name": "s6_label"}, "mark": {"type": "text", "font": "Lato", "fontSize": 19.5, "color": "black", "align": "center", "baseline": "middle"},
 "encoding": {"text": {"field": "label"}}}
]
},
{
"title": "Tab 1", "width": 415, "height": 271,
"encoding": {
"x": {"field": "t", "type": "quantitative", "scale": {"domain": [0, 300], "nice": false, "zero": false}, "axis": {"values": [0, 50, 100, 150, 200, 250, 300]}},
"y": {"field": "v", "type": "quantitative", "scale": {"domain": [-1000, 1000], "nice": false, "zero": false}, "axis": {"values": [-1000, -800, -600, -400, -200, 0, 200, 400, 600, 800, 1000], "labelExpr": "'' + datum.value"}}
},
"layer": [
{"data": {"name": "t1_async"}, "mark": {"type": "line", "strokeWidth": 1, "strokeDash": [3, 2], "clip": true},
 "encoding": {"color": {"datum": "Async evolution", "type": "nominal", "scale": {"domain": ["Async evolution", "Moving average (20 values)", "Adjustment"], "range": ["#4472C4", "#44546A", "#FF0000"]}}}},
{"data": {"name": "t1_ma"}, "mark": {"type": "line", "strokeWidth": 2.2, "clip": true},
 "encoding": {"color": {"datum": "Moving average (20 values)", "type": "nominal", "scale": {"domain": ["Async evolution", "Moving average (20 values)", "Adjustment"], "range": ["#4472C4", "#44546A", "#FF0000"]}}}},
{"data": {"name": "t1_adj"}, "mark": {"type": "circle", "size": 62, "opacity": 1},
 "encoding": {"color": {"datum": "Adjustment", "type": "nominal", "scale": {"domain": ["Async evolution", "Moving average (20 values)", "Adjustment"], "range": ["#4472C4", "#44546A", "#FF0000"]}}}},
{"data": {"name": "t1_rules"}, "mark": {"type": "rule", "color": "black", "strokeWidth": 1.3},
 "encoding": {"x2": {"field": "t2"}, "y2": {"field": "v2"}}},
{"data": {"name": "t1_heads"}, "mark": {"type": "point", "shape": "triangle-up", "filled": true, "color": "black", "size": 60, "opacity": 1},
 "encoding": {"angle": {"condition": {"test": "datum.dir === 'up'", "value": 0}, "value": 90}}},
{"data": {"name": "t1_ylabel"}, "mark": {"type": "text", "font": "Liberation Serif", "fontSize": 18.5, "color": "black", "align": "center", "baseline": "middle", "angle": 270},
 "encoding": {"text": {"field": "label"}}},
{"data": {"name": "t1_xlabel"}, "mark": {"type": "text", "font": "Liberation Serif", "fontSize": 18, "color": "black", "align": "center", "baseline": "middle"},
 "encoding": {"text": {"field": "label"}}}
]
},
{
"title": "Tab 2", "width": 415, "height": 271,
"encoding": {
"x": {"field": "t", "type": "quantitative", "scale": {"domain": [0, 300], "nice": false, "zero": false}, "axis": {"values": [0, 50, 100, 150, 200, 250, 300]}},
"y": {"field": "v", "type": "quantitative", "scale": {"domain": [-1000, 1000], "nice": false, "zero": false}, "axis": {"values": [-1000, -800, -600, -400, -200, 0, 200, 400, 600, 800, 1000], "labelExpr": "'' + datum.value"}}
},
"layer": [
{"data": {"name": "t2_async"}, "mark": {"type": "line", "strokeWidth": 1, "strokeDash": [3, 2], "clip": true},
 "encoding": {"color": {"datum": "Async evolution", "type": "nominal", "scale": {"domain": ["Async evolution", "Moving average (20 values)", "Adjustment"], "range": ["#4472C4", "#44546A", "#FF0000"]}}}},
{"data": {"name": "t2_ma"}, "mark": {"type": "line", "strokeWidth": 2.2, "clip": true},
 "encoding": {"color": {"datum": "Moving average (20 values)", "type": "nominal", "scale": {"domain": ["Async evolution", "Moving average (20 values)", "Adjustment"], "range": ["#4472C4", "#44546A", "#FF0000"]}}}},
{"data": {"name": "t2_adj"}, "mark": {"type": "circle", "size": 62, "opacity": 1},
 "encoding": {"color": {"datum": "Adjustment", "type": "nominal", "scale": {"domain": ["Async evolution", "Moving average (20 values)", "Adjustment"], "range": ["#4472C4", "#44546A", "#FF0000"]}}}},
{"data": {"name": "t2_arrows"}, "mark": {"type": "rule", "color": "#ED7D31", "strokeWidth": 3},
 "encoding": {"x2": {"field": "t2"}, "y2": {"field": "v2"}}},
{"data": {"name": "t2_heads"}, "mark": {"type": "point", "shape": "triangle-up", "filled": true, "color": "#ED7D31", "size": 150, "opacity": 1, "angle": 219},
 "encoding": {}},
{"data": {"name": "t2_box"}, "mark": {"type": "rect", "fill": "white", "stroke": "#ED7D31", "strokeWidth": 3},
 "encoding": {"x2": {"field": "t2"}, "y2": {"field": "v2"}}},
{"data": {"name": "t2_label"}, "mark": {"type": "text", "font": "Lato", "fontSize": 19.5, "color": "black", "align": "center", "baseline": "middle"},
 "encoding": {"text": {"field": "label"}}}
]
}
],
"config": {
"font": "Lato",
"view": {"stroke": null},
"axis": {"grid": true, "gridColor": "#D9D9D9", "gridWidth": 1, "domain": false, "ticks": false, "title": null, "labelColor": "#595959", "labelFontSize": 13, "labelFont": "Lato", "labelOverlap": false, "labelFlush": false},
"axisX": {"labelPadding": 12},
"axisY": {"labelPadding": 13},
"title": {"fontSize": 22, "color": "#595959", "font": "Lato", "fontWeight": "normal", "frame": "group", "anchor": "middle", "offset": 16}
}
}
